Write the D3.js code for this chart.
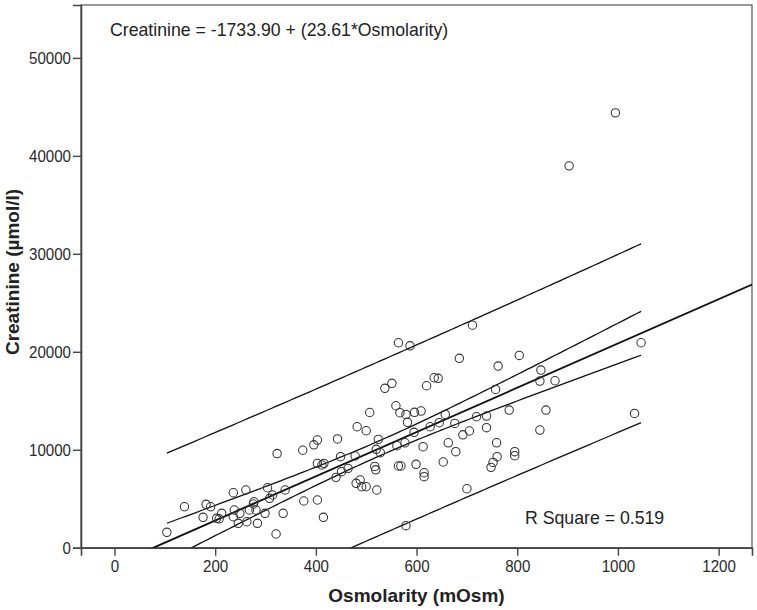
<!DOCTYPE html>
<html>
<head>
<meta charset="utf-8">
<script src="https://cdn.jsdelivr.net/npm/d3@7"></script>
<style>
  html, body { margin: 0; padding: 0; background: #fff; }
  svg { display: block; font-family: "Liberation Sans", Arial, sans-serif; }
</style>
</head>
<body>
<svg id="chart" width="757" height="610"></svg>
<script>
// ---- data ----
const osmolarity = [
  104,139,176,182,191,203,208,213,236,261,238,236,246,249,263,268,276,277,281,284,
  299,304,308,314,321,323,335,339,374,376,396,403,403,403,412,416,415,440,443,449,
  451,464,478,480,488,491,500,482,500,507,517,519,521,524,520,528,
  711,564,587,685,804,762,847,845,875,635,643,537,551,620,757,559,567,579,596,609,
  582,595,627,645,657,676,719,739,739,784,857,845,692,705,613,663,678,759,760,752,
  748,795,795,653,599,564,569,615,615,700,1033,1046,903,995,579,561,577
];
const creatinine = [
  1570,4180,3100,4430,4180,3000,2950,3510,5610,5890,3850,3160,2490,3510,2650,3850,4460,4690,3850,2490,
  3510,6120,5040,5380,1400,9610,3510,5890,9950,4770,10500,10990,8610,4870,8440,8610,3100,7180,11100,9290,
  7760,8100,9360,6570,6910,6220,6220,12350,11940,13800,8300,7950,5890,11060,10040,9700,
  22720,20920,20610,19330,19630,18540,18130,17010,17040,17350,17290,16270,16780,16530,16160,14490,13780,13610,13820,13950,
  12800,11780,12350,12760,13610,12690,13370,13440,12250,14050,14050,12010,11520,11910,10310,10710,9800,10710,9290,8710,
  8200,9800,9390,8750,8510,8340,8340,7650,7250,6020,13710,20920,38980,44390,2250,10410,10710
];
const xTicks = [0, 200, 400, 600, 800, 1000, 1200];
const yTicks = [0, 10000, 20000, 30000, 40000, 50000];
const xTitle = "Osmolarity (mOsm)";
const yTitle = "Creatinine (µmol/l)";
const equationLabel = "Creatinine = -1733.90 + (23.61*Osmolarity)";
const rSquareLabel = "R Square = 0.519";
// regression line and interval parameters as drawn
const fitIntercept = -1750;
const fitSlope = 22.6;
const bandTS = 8850;      // t * residual SE
const bandN = 130;
const bandXMean = 529;
const bandSxx = 4.73e6;

// ---- layout ----
const L = 81, R = 752, T = 5, B = 547.7;
const svg = d3.select("#chart");
const x = d3.scaleLinear().domain([-66.5, 1266.3]).range([L, R]);
const y = d3.scaleLinear().domain([0, 55400]).range([B, T]);

svg.append("defs").append("clipPath").attr("id", "plotClip")
  .append("rect").attr("x", L).attr("y", T).attr("width", R - L).attr("height", B - T);

// frame
svg.append("rect").attr("x", L).attr("y", T).attr("width", R - L).attr("height", B - T)
  .attr("fill", "none").attr("stroke", "#555").attr("stroke-width", 1.2);

// axes
const xAxis = svg.append("g").attr("transform", `translate(0,${B})`)
  .call(d3.axisBottom(x).tickValues(xTicks).tickSize(8).tickPadding(4).tickFormat(d3.format("d")));
const yAxis = svg.append("g").attr("transform", `translate(${L},0)`)
  .call(d3.axisLeft(y).tickValues(yTicks).tickSize(8).tickPadding(2).tickFormat(d3.format("d")));
[xAxis, yAxis].forEach(g => {
  g.select(".domain").attr("stroke", "#444").attr("stroke-width", 1.6);
  g.selectAll(".tick line").attr("stroke", "#444").attr("stroke-width", 1.4);
  g.selectAll(".tick text")
    .attr("fill", "#2a2a2a")
    .style("font-size", "17px")
    .attr("textLength", d => String(d).length * 8.4)
    .attr("lengthAdjust", "spacingAndGlyphs");
});

// axis titles
svg.append("text").attr("x", (L + R) / 2).attr("y", 602)
  .attr("text-anchor", "middle").style("font-size", "19px").style("font-weight", "bold")
  .attr("fill", "#222").text(xTitle);
svg.append("text").attr("transform", `translate(19,${272}) rotate(-90)`)
  .attr("text-anchor", "middle").style("font-size", "19px").style("font-weight", "bold")
  .attr("fill", "#222").text(yTitle);

// regression + intervals
const plot = svg.append("g").attr("clip-path", "url(#plotClip)");
const fit = v => fitIntercept + fitSlope * v;
const se = (v, extra) => bandTS * Math.sqrt(extra + 1 / bandN + (v - bandXMean) ** 2 / bandSxx);
const xMin = d3.min(osmolarity), xMax = d3.max(osmolarity);
const xs = d3.range(0, 101).map(i => xMin + (xMax - xMin) * i / 100);
const line = d3.line().x(d => x(d[0])).y(d => y(d[1]));

const curves = [
  xs.map(v => [v, fit(v) + se(v, 1)]),
  xs.map(v => [v, fit(v) - se(v, 1)]),
  xs.map(v => [v, fit(v) + se(v, 0)]),
  xs.map(v => [v, fit(v) - se(v, 0)])
];
plot.selectAll("path.band").data(curves).join("path").attr("class", "band")
  .attr("d", line).attr("fill", "none").attr("stroke", "#111").attr("stroke-width", 1.3);

const xDom = x.domain();
plot.append("path").attr("d", line([[xDom[0], fit(xDom[0])], [xDom[1], fit(xDom[1])]]))
  .attr("fill", "none").attr("stroke", "#111").attr("stroke-width", 1.9);

// points
plot.selectAll("circle.pt").data(osmolarity.map((v, i) => [v, creatinine[i]])).join("circle")
  .attr("class", "pt").attr("cx", d => x(d[0])).attr("cy", d => y(d[1])).attr("r", 4.2)
  .attr("fill", "none").attr("stroke", "#333").attr("stroke-width", 1.05);

// annotations
svg.append("text").attr("x", 110).attr("y", 36).style("font-size", "17.7px")
  .attr("fill", "#222").text(equationLabel);
svg.append("text").attr("x", 525).attr("y", 524).style("font-size", "17.7px")
  .attr("fill", "#222").text(rSquareLabel);
</script>
</body>
</html>
